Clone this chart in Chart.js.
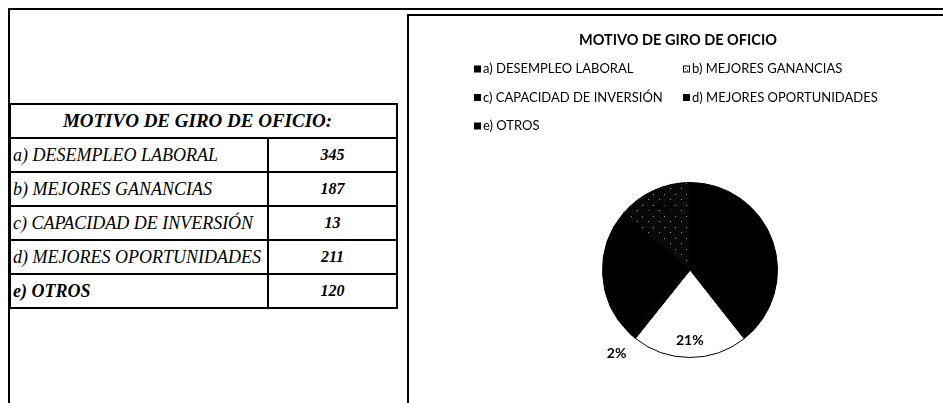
<!DOCTYPE html>
<html>
<head>
<meta charset="utf-8">
<script src="https://cdn.jsdelivr.net/npm/chart.js"></script>
<style>
body { margin: 0; background: #fff; }
#hoja { position: relative; width: 943px; height: 403px; overflow: hidden; background: #fff; }
#marco { position: absolute; left: 8px; top: 8px; width: 980px; height: 440px; border: 2px solid #000; }
#panel { position: absolute; left: 407px; top: 14px; width: 580px; height: 440px; border: 2px solid #000; }
#grafico { position: absolute; left: 409px; top: 16px; width: 534px; height: 387px; }
#tabla { position: absolute; left: 9px; top: 103px; border-collapse: collapse; font-family: 'Liberation Serif', 'Times New Roman', serif; font-style: italic; }
#tabla td { border: 2px solid #000; height: 32px; padding: 0 2px; font-size: 18px; white-space: nowrap; }
#tabla td.cab { text-align: center; font-weight: bold; font-size: 19px; padding-right: 14px; }
#tabla td.cat { width: 252px; }
#tabla td.num { width: 123px; text-align: center; font-weight: bold; font-size: 16px; }
#tabla tr.ult td { font-weight: bold; }
</style>
</head>
<body>
<div id="hoja">
  <div id="marco"></div>
  <table id="tabla"><tbody id="filas"></tbody></table>
  <div id="panel"></div>
  <div id="grafico"><canvas id="GraficoGiro" width="534" height="387"></canvas></div>
</div>
<script>
var titulo = 'MOTIVO DE GIRO DE OFICIO';
var categorias = ['a) DESEMPLEO LABORAL', 'b) MEJORES GANANCIAS', 'c) CAPACIDAD DE INVERSIÓN', 'd) MEJORES OPORTUNIDADES', 'e) OTROS'];
var cantidades = [345, 187, 13, 211, 120];
var porcentajes = ['39%', '21%', '2%', '24%', '14%']; // etiquetas del grafico (solo 21% y 2% se ven)

// tabla de la izquierda
var filas = document.getElementById('filas');
var cab = document.createElement('tr');
cab.innerHTML = '<td class="cab" colspan="2">' + titulo + ':</td>';
filas.appendChild(cab);
categorias.forEach(function (c, i) {
    var tr = document.createElement('tr');
    if (i === categorias.length - 1) tr.className = 'ult';
    tr.innerHTML = '<td class="cat">' + c + '</td><td class="num">' + cantidades[i] + '</td>';
    filas.appendChild(tr);
});

var ctx = document.getElementById('GraficoGiro').getContext('2d');

// trama moteada para "e) OTROS"
function moteado() {
    var c = document.createElement('canvas');
    c.width = 11; c.height = 11;
    var g = c.getContext('2d');
    g.fillStyle = '#080808';
    g.fillRect(0, 0, 11, 11);
    g.fillStyle = '#8c8c8c';
    g.fillRect(2, 2, 1, 1);
    g.fillRect(8, 7, 1, 1);
    return ctx.createPattern(c, 'repeat');
}

var colores = ['#000000', '#ffffff', '#050505', '#000000', moteado()];
var fuente = "Lato, 'Open Sans', sans-serif";

var rotulos = {
    id: 'rotulos',
    afterDraw: function (chart) {
        var c = chart.ctx;
        c.save();
        c.fillStyle = '#000';
        c.textBaseline = 'middle';
        // titulo
        c.font = 'bold 14.5px ' + fuente;
        c.textAlign = 'center';
        c.fillText(titulo, 269, 24);
        // leyenda en dos columnas
        c.font = '13px ' + fuente;
        c.textAlign = 'left';
        categorias.forEach(function (cat, i) {
            var x = (i % 2 === 0) ? 65 : 274;
            var y = 53 + Math.floor(i / 2) * 28.5;
            c.fillStyle = i === 1 ? '#fff' : '#000';
            c.fillRect(x, y - 3.5, 7, 7);
            if (i === 1) {
                c.strokeStyle = '#000';
                c.lineWidth = 1;
                c.strokeRect(x + 0.5, y - 3, 6, 6);
                c.fillStyle = '#000';
                c.fillRect(x + 2, y - 1, 1, 1);
                c.fillRect(x + 4, y + 1, 1, 1);
            }
            c.fillStyle = '#000';
            c.fillText(cat, x + 9, y);
        });
        // porcentajes
        c.font = 'bold 14px ' + fuente;
        c.textAlign = 'center';
        var meta = chart.getDatasetMeta(0);
        meta.data.forEach(function (arc, i) {
            var medio = (arc.startAngle + arc.endAngle) / 2;
            var r = (arc.endAngle - arc.startAngle) < 0.2 ? arc.outerRadius * 1.27 : arc.outerRadius * 0.8;
            c.fillText(porcentajes[i], arc.x + Math.cos(medio) * r, arc.y + Math.sin(medio) * r);
        });
        c.restore();
    }
};

var miGrafico = new Chart(ctx, {
    type: 'pie',
    data: {
        labels: categorias,
        datasets: [{
            data: cantidades,
            backgroundColor: colores,
            borderColor: '#000',
            borderWidth: 1,
            hoverOffset: 0
        }]
    },
    options: {
        responsive: false,
        animation: false,
        layout: { padding: { left: 193, right: 165, top: 166, bottom: 45 } },
        plugins: {
            legend: { display: false },
            title: { display: false },
            tooltip: { enabled: false }
        }
    },
    plugins: [rotulos]
});
</script>
</body>
</html>
